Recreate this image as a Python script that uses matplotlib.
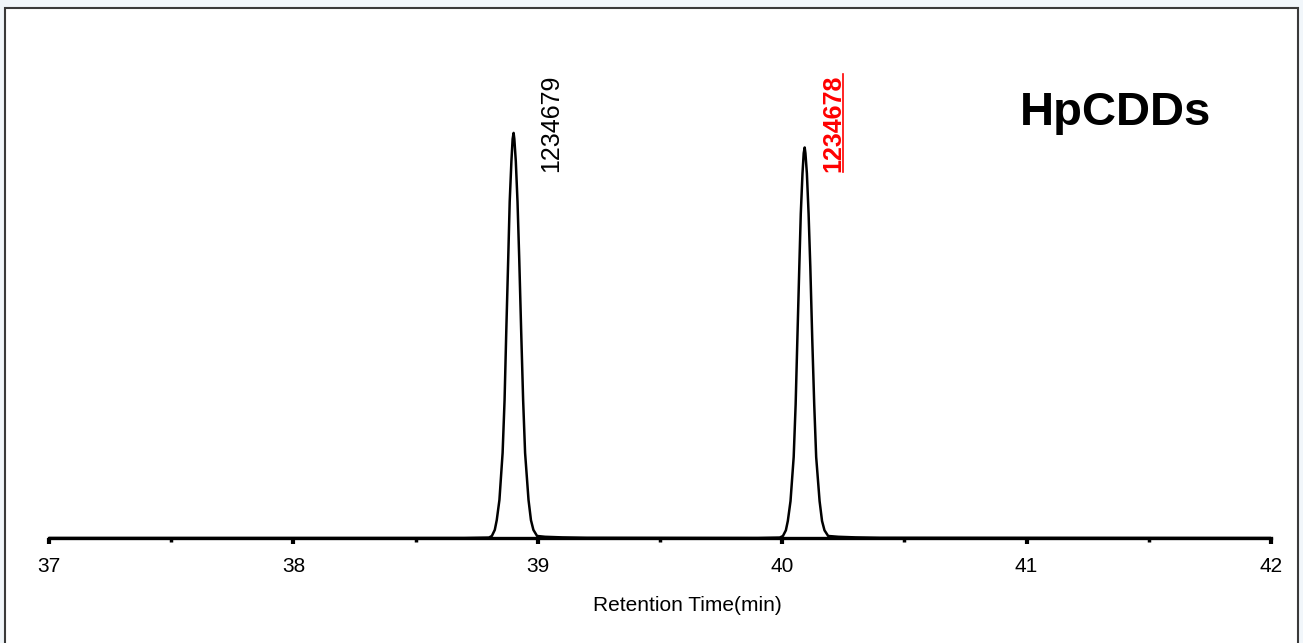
import matplotlib
matplotlib.use("Agg")
import matplotlib.pyplot as plt
from matplotlib.lines import Line2D
from matplotlib.patches import Rectangle
from matplotlib.ticker import MultipleLocator

plt.rcParams["font.family"] = ["Liberation Sans", "DejaVu Sans"]

# chromatogram trace (time in min, relative signal)
trace_time = [37.00, 38.70, 38.80,
              38.812, 38.824, 38.832, 38.843, 38.856, 38.864, 38.871, 38.879, 38.885,
              38.892, 38.897, 38.901, 38.904, 38.910, 38.917, 38.924, 38.932, 38.940,
              38.948, 38.962, 38.972, 38.982, 38.997, 39.03, 39.10, 39.20, 39.90, 39.99,
              40.003, 40.015, 40.023, 40.034, 40.047, 40.055, 40.062, 40.070, 40.076,
              40.083, 40.088, 40.092, 40.095, 40.101, 40.108, 40.115, 40.123, 40.131,
              40.139, 40.153, 40.163, 40.173, 40.188, 40.23, 40.30, 40.40, 42.00]
trace_signal = [0, 0, 0.1,
                0.5, 2.0, 4.4, 9.4, 21, 34, 51, 69, 83,
                93, 98.5, 100, 98.5, 93, 83, 69, 51, 34,
                21, 9.4, 4.4, 2.0, 0.5, 0.3, 0.15, 0.05, 0, 0.1,
                0.5, 1.9, 4.2, 9.1, 20, 33, 49, 67, 80,
                90, 95, 96.4, 95, 90, 80, 67, 49, 33,
                20, 9.1, 4.2, 1.9, 0.5, 0.3, 0.15, 0.05, 0]

peak_labels = ["1234679", "1234678"]
peak_label_time = [39.054, 40.208]
peak_label_colors = ["black", "#ff0000"]
group_name = "HpCDDs"

fig = plt.figure(figsize=(13.03, 6.43), dpi=100, facecolor="#f1f6fa")
fig.add_artist(Rectangle((4.5 / 1303, -0.01), 1293 / 1303, 1.01 - 8 / 643,
                         transform=fig.transFigure, facecolor="white",
                         edgecolor="#3a3a3a", linewidth=1.5, zorder=-5))

ax = fig.add_axes([49 / 1303, 0.1633, 1222 / 1303, 0.7434])
ax.set_facecolor("none")
ax.plot(trace_time, trace_signal, color="black", linewidth=1.8, zorder=3)
ax.set_xlim(37, 42)
ax.set_ylim(0, 118)

for s in ["top", "left", "right"]:
    ax.spines[s].set_visible(False)
ax.spines["bottom"].set_linewidth(2.4)
ax.spines["bottom"].set_zorder(4)
ax.set_yticks([])
ax.xaxis.set_major_locator(MultipleLocator(1))
ax.xaxis.set_minor_locator(MultipleLocator(0.5))
ax.tick_params(axis="x", which="major", direction="out", length=4, width=3,
               labelsize=15, pad=10)
ax.tick_params(axis="x", which="minor", direction="out", length=3, width=2.5)
ax.set_xlabel("Retention Time(min)", fontsize=15)
ax.xaxis.set_label_coords(0.522, -0.122)

texts = []
for lab, t, c in zip(peak_labels, peak_label_time, peak_label_colors):
    texts.append(ax.text(t, 90.4, lab, rotation=90, ha="center", va="bottom",
                         fontsize=18, color=c,
                         fontweight="bold" if c != "black" else "normal"))

ax.text(41.362, 102, group_name, ha="center", va="baseline", fontsize=34,
        fontweight="bold")

# underline for the red label
fig.canvas.draw()
bb = texts[1].get_window_extent()
fig.add_artist(Line2D([bb.x1 - 2, bb.x1 - 2], [bb.y0, bb.y1], transform=None,
                      color="#ff0000", linewidth=1.2))

fig.savefig("out.png", dpi=100, facecolor=fig.get_facecolor())
